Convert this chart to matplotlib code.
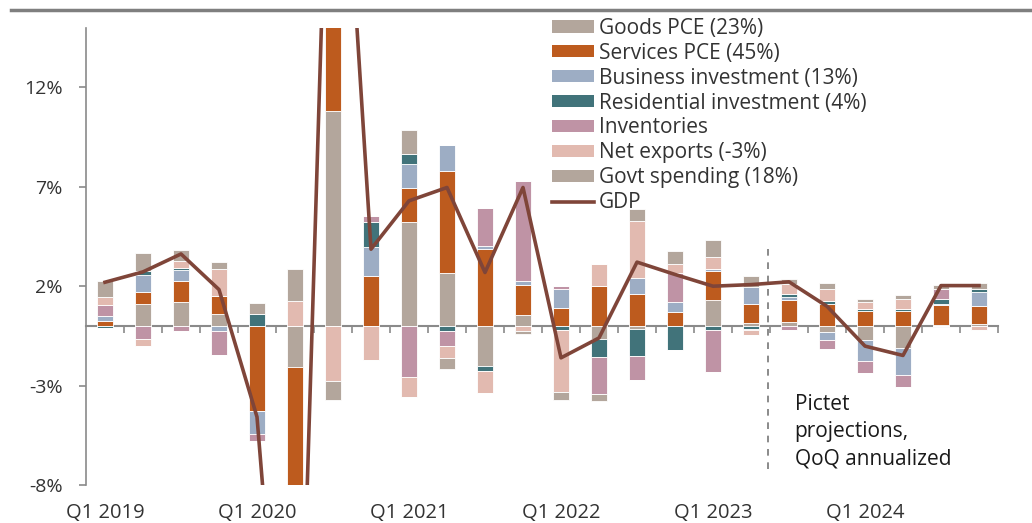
import matplotlib
matplotlib.use("Agg")
import matplotlib.pyplot as plt
from matplotlib.lines import Line2D
from matplotlib.patches import Patch
import numpy as np

plt.rcParams['font.family'] = ['Open Sans', 'DejaVu Sans']

# quarterly contributions to US GDP growth (pp, QoQ annualized), Q1 2019 - Q4 2024
quarters = [f"Q{q} {y}" for y in range(2019, 2025) for q in range(1, 5)]

goods = [0.0, 1.14, 1.2, 0.59, 0.0, -2.06, 10.8, 0.0,
         5.24, 2.65, -1.99, 0.55, 0.0, -0.62, -0.12, 0.0,
         1.34, 0.17, 0.22, -0.28, -0.67, -1.12, 0.05, 0.12]
services = [0.25, 0.57, 1.06, 0.95, -4.25, -19.6, 15.5, 2.51,
            1.71, 5.16, 3.87, 1.54, 0.89, 2.01, 1.62, 0.7,
            1.42, 0.97, 1.12, 1.14, 0.75, 0.75, 1.0, 0.89]
business = [0.25, 0.85, 0.55, -0.23, -1.19, -4.5, 3.0, 1.47,
            1.19, 1.29, 0.15, 0.2, 1.0, 0.0, 0.8, 0.52,
            0.12, 0.82, 0.13, -0.42, -1.09, -1.34, 0.08, 0.7]
residential = [-0.1, 0.22, 0.13, 0.0, 0.6, -1.2, 1.7, 1.26,
               0.5, -0.23, -0.27, 0.0, -0.2, -0.92, -1.39, -1.22,
               -0.17, -0.12, 0.17, 0.12, 0.12, 0.13, 0.22, 0.18]
inventories = [0.59, -0.62, -0.22, -1.22, -0.33, -3.5, 6.7, 0.3,
               -2.55, -0.77, 1.94, 4.99, 0.13, -1.89, -1.17, 1.46,
               -2.13, -0.08, -0.2, -0.47, -0.59, -0.59, 0.5, 0.0]
net_exports = [0.37, -0.35, 0.32, 1.31, 0.0, 1.26, -2.75, -1.71,
               -1.0, -0.62, -1.12, -0.23, -3.13, 1.14, 2.85, 0.47,
               0.59, -0.25, 0.5, 0.59, 0.34, 0.5, 0.0, -0.17]
govt = [0.8, 0.9, 0.55, 0.4, 0.59, 1.6, -0.97, 0.0,
        1.21, -0.52, 0.0, -0.17, -0.39, -0.34, 0.64, 0.62,
        0.84, 0.55, 0.23, 0.34, 0.15, 0.17, 0.23, 0.28]
gdp = [2.21, 2.73, 3.63, 1.84, -4.56, -28.0, 34.0, 3.87,
       6.3, 6.97, 2.7, 6.97, -1.59, -0.59, 3.22, 2.6,
       2.01, 2.09, 2.23, 1.0, -1.0, -1.47, 2.04, 2.04]

labels = ["Goods PCE (23%)", "Services PCE (45%)", "Business investment (13%)",
          "Residential investment (4%)", "Inventories", "Net exports (-3%)",
          "Govt spending (18%)"]
colors = ["#b3a69c", "#bd5b1e", "#9dadc4", "#41737a", "#bf93a5", "#e2bab0", "#b3a69c"]
series = [goods, services, business, residential, inventories, net_exports, govt]

projection_start = 17.45
gray = "#8a8a8a"

fig = plt.figure(figsize=(10.32, 5.23), dpi=100)
ax = fig.add_axes([86 / 1032, 1 - 485.4 / 523, 912 / 1032, 457.7 / 523])

x = np.arange(len(quarters))
pos_base = np.zeros(len(x))
neg_base = np.zeros(len(x))
for vals, col in zip(series, colors):
    v = np.array(vals)
    pos = np.where(v > 0, v, 0)
    neg = np.where(v < 0, v, 0)
    ax.bar(x, pos, 0.4, bottom=pos_base, color=col, edgecolor="white", linewidth=0.6, zorder=2)
    ax.bar(x, neg, 0.4, bottom=neg_base, color=col, edgecolor="white", linewidth=0.6, zorder=2)
    pos_base += pos
    neg_base += neg

ax.plot(x, gdp, color="#7f4539", lw=2.6, zorder=3)

ax.set_xlim(-0.5, 23.5)
ax.set_ylim(-8, 15)
ax.set_yticks([-8, -3, 2, 7, 12])
ax.set_yticklabels([f"{t}%" for t in [-8, -3, 2, 7, 12]])
ax.set_xticks(x[::4])
ax.set_xticklabels(quarters[::4])
ax.tick_params(axis="x", length=0, pad=13, labelsize=14.5, colors="#333333")
ax.tick_params(axis="y", length=5, width=1.2, color=gray, pad=12, labelsize=14, labelcolor="#333333")
for s in ["top", "right", "bottom"]:
    ax.spines[s].set_visible(False)
ax.spines["left"].set_color(gray)
ax.spines["left"].set_linewidth(1.2)

# zero line with quarter separators
zero_ax = ax.secondary_xaxis(8 / 23)
zero_ax.set_xticks(x + 0.5)
zero_ax.set_xticklabels([])
zero_ax.tick_params(length=5, width=1.2, color=gray, direction="out")
zero_ax.spines["bottom"].set_color(gray)
zero_ax.spines["bottom"].set_linewidth(1.5)

ax.vlines(projection_start, -7.2, 4.2, colors="#777777", linestyles=(0, (4, 4)), lw=1.2)
ax.text(18.15, -3.4, "Pictet\nprojections,\nQoQ annualized", fontsize=15,
        va="top", ha="left", color="#1a1a1a", linespacing=1.38)

handles = [Patch(facecolor=c, edgecolor="none") for c in colors]
handles.append(Line2D([0], [0], color="#7f4539", lw=2.6))
ax.legend(handles, labels + ["GDP"], loc="upper left", bbox_to_anchor=(0.511, 1.022),
          frameon=False, fontsize=15, handlelength=2.0, handleheight=0.55,
          handletextpad=0.25, labelspacing=0.19, borderaxespad=0, borderpad=0,
          labelcolor="#333333")

fig.add_artist(Line2D([11 / 1032, 1], [1 - 10 / 523] * 2, transform=fig.transFigure,
                      color="#7f7f7f", lw=2.5))

fig.savefig("out.png", dpi=100)
